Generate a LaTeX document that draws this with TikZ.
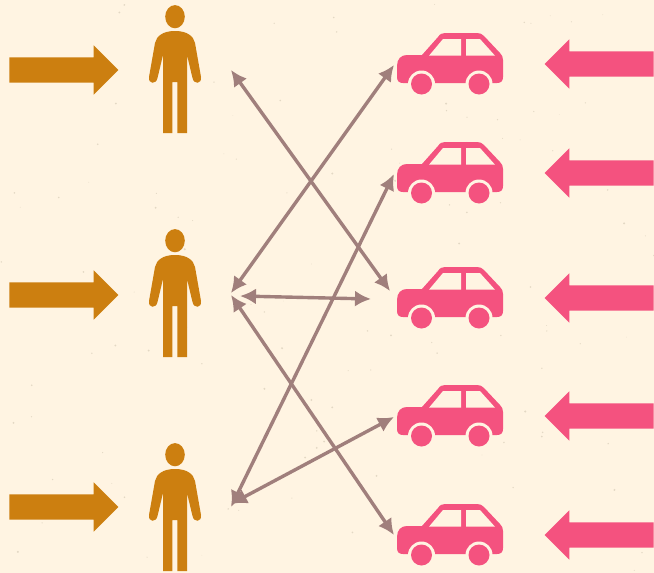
\documentclass[tikz,border=0pt]{standalone}
\usepackage{xcolor}
\usetikzlibrary{shapes.arrows, arrows.meta, positioning}
\definecolor{paper}{HTML}{FFF4E2}
\definecolor{speck}{HTML}{E3D8C4}
\definecolor{personcol}{HTML}{CC7F10}
\definecolor{carcol}{HTML}{F4527F}
\definecolor{linkcol}{HTML}{A07F7C}
\tikzstyle{link} = [draw=linkcol, {Latex[length=16pt,width=16pt]}-{Latex[length=16pt,width=16pt]}, line width=3.4pt]
\tikzstyle{blockarrow} = [single arrow, draw=none, inner xsep=0pt, inner ysep=12.5pt, minimum height=109pt, minimum width=49pt, single arrow head extend=12pt]
\tikzstyle{personarrow} = [blockarrow, fill=personcol]
\tikzstyle{cararrow} = [blockarrow, fill=carcol, shape border rotate=180]
\tikzset{
  person/.pic={
    \fill [personcol] (0,16.7) ellipse (9.8 and 11.6);
    \fill [personcol] (-12,133) -- (-12,55) -- (-17.5,78) .. controls (-19,85) and (-27,84) .. (-26,77)
      -- (-20,43) .. controls (-18.5,36) and (-12,31) .. (0,31) .. controls (12,31) and (18.5,36) .. (20,43)
      -- (26,77) .. controls (27,84) and (19,85) .. (17.5,78) -- (12,55) -- (12,133) -- (2.3,133)
      -- (2.3,82) -- (-2.7,82) -- (-2.7,133) -- cycle;
  },
  car/.pic={
    \fill [carcol] (0,33) .. controls (0,26) and (4,22) .. (10,22) -- (25,22) -- (41,4) .. controls (43,1) and (45,0) .. (48,0)
      -- (80,0) .. controls (83,0) and (85,1) .. (87,3) -- (103,20) .. controls (105,22) and (106,24) .. (106,27)
      -- (106,44) .. controls (106,48) and (104,50) .. (100,50) -- (6,50) .. controls (2,50) and (0,48) .. (0,44) -- cycle;
    \fill [paper] (32,22.7) -- (46,6) -- (64,6) -- (64,22.7) -- cycle;
    \fill [paper] (69,6) -- (83,6) -- (98,22.7) -- (69,22.7) -- cycle;
    \foreach \wx in {24.5,82} {
      \fill [paper] (\wx,51) circle (13.5);
      \fill [carcol] (\wx,51) circle (10.5);
    }
  }
}

\begin{document}
\begin{tikzpicture}[x=1pt, y=-1pt]
    \fill [paper] (0,0) rectangle (654,573);
    \useasboundingbox (0,0) rectangle (654,573);
    \pgfmathsetseed{41}
    \foreach \i in {1,...,130} {
        \fill [speck] (rnd*654,rnd*573) circle (0.3+rnd*0.8);
    }

    % people
    \pic (persona) at (175,0) {person};
    \pic (personb) at (175,224) {person};
    \pic (personc) at (175,438) {person};

    % cars
    \pic (cara) at (397,33) {car};
    \pic (carb) at (397,142) {car};
    \pic (carc) at (397,267) {car};
    \pic (card) at (397,385) {car};
    \pic (care) at (397,504) {car};

    % block arrows
    \node [personarrow] (arrowa) at (57.5,70) {};
    \node [personarrow] (arrowb) at (57.5,295) {};
    \node [personarrow] (arrowc) at (57.5,507) {};
    \node [cararrow] (arrowd) at (605.5,64) {};
    \node [cararrow] (arrowe) at (605.5,173) {};
    \node [cararrow] (arrowf) at (605.5,298) {};
    \node [cararrow] (arrowg) at (605.5,416) {};
    \node [cararrow] (arrowh) at (605.5,535) {};

    % link ends
    \coordinate (pa) at (231,70);
    \coordinate (pbtop) at (231,293);
    \coordinate (pbmid) at (240,296);
    \coordinate (pblow) at (231,295);
    \coordinate (pctop) at (231,504);
    \coordinate (pclow) at (231,507);
    \coordinate (ca) at (394,65);
    \coordinate (cb) at (394,174);
    \coordinate (cc) at (390,291);
    \coordinate (ccmid) at (371,299);
    \coordinate (cd) at (394,417);
    \coordinate (ce) at (394,535);

    \path [link] (pa) -- (cc);
    \path [link] (pbtop) -- (ca);
    \path [link] (pbmid) -- (ccmid);
    \path [link] (pblow) -- (ce);
    \path [link] (pclow) -- (cb);
    \path [link] (pctop) -- (cd);
\end{tikzpicture}
\end{document}
